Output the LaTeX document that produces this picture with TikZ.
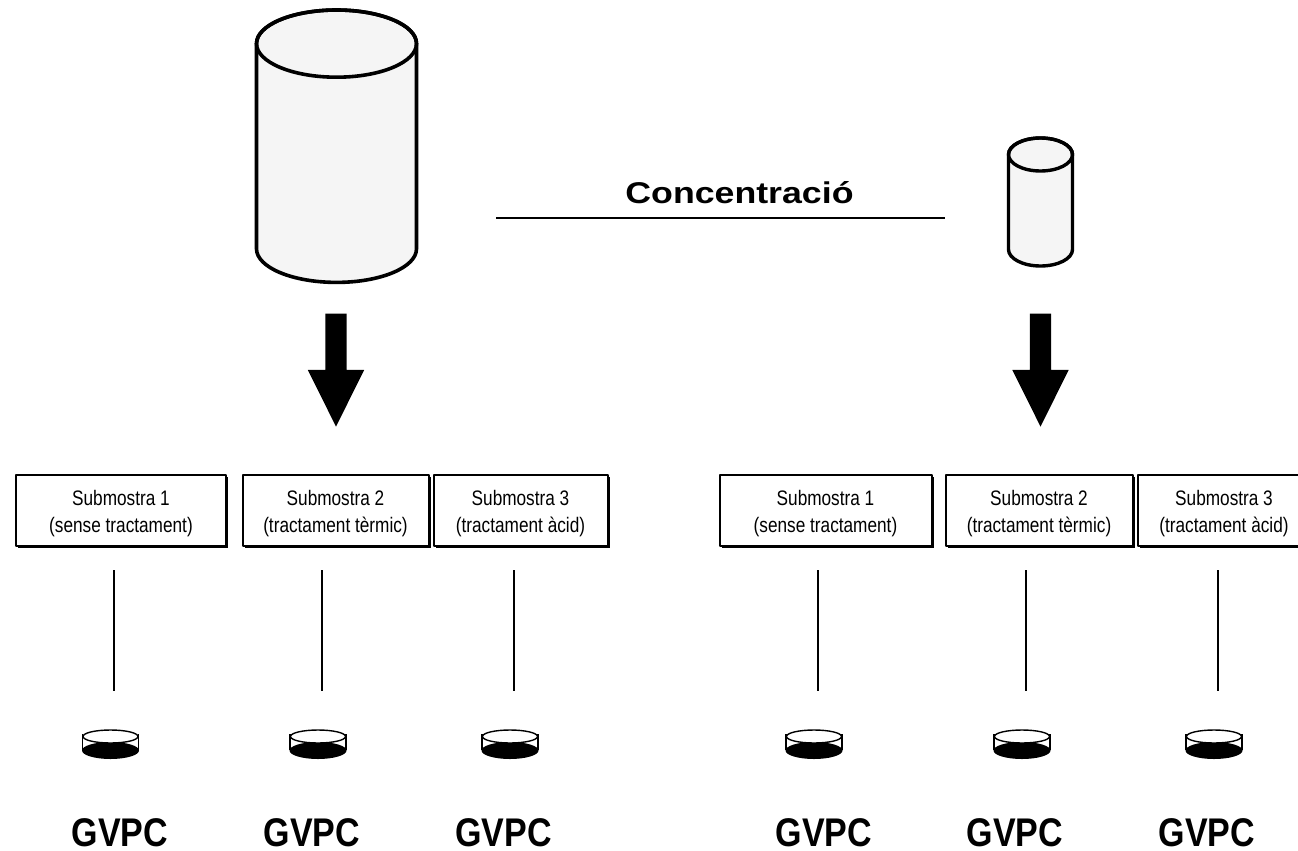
\documentclass[tikz,border=0pt]{standalone}
\usepackage{fontspec}
\setmainfont{Liberation Sans}
\newfontfamily\boxfont[FakeStretch=0.82]{Liberation Sans}
\newfontfamily\gvpcfont[FakeStretch=0.85]{Liberation Sans}
\newfontfamily\titlefont[FakeStretch=1.19]{Liberation Sans}
\usepackage{tikz}
\usetikzlibrary{arrows,shapes,positioning,shadows}

\newcommand{\sublabel}[2]{\rule{0pt}{23pt}#1\\#2}

\tikzset{dish/.pic={
 \fill[black] (0,5.5) ellipse [x radius=28.5pt, y radius=8.5pt];
 \draw[line width=1.4pt,fill=white] (0,-8.5) ellipse [x radius=27.5pt, y radius=6.5pt];
 \draw[line width=1.4pt] (-28,-11) -- (-28,5) (28,-11) -- (28,5);
}}
\tikzset{pics/tank/.style n args={3}{code={
 \draw[fill=black!4] (-#1,#3-#2) -- (-#1,#2-#3) arc[start angle=180,end angle=360,x radius=#1pt,y radius=#3pt]
  -- (#1,#3-#2) arc[start angle=0,end angle=180,x radius=#1pt,y radius=#3pt] -- cycle;
 \draw (0,#3-#2) ellipse [x radius=#1pt, y radius=#3pt];
}}}

\begin{document}
\begin{tikzpicture}[x=1pt,y=-1pt,
line join=round]
\tikzstyle{sample}=[rectangle,draw=black,fill=white,line width=2pt,minimum height=71pt,inner sep=0pt,align=center,
 font=\boxfont\fontsize{21}{27}\selectfont,
 drop shadow={shadow xshift=2pt,shadow yshift=-2pt,opacity=1,fill=black}]
\tikzstyle{flow}=[single arrow,fill=black,draw=none,rotate=-90,anchor=tip,inner xsep=0pt,inner ysep=10.5pt,minimum width=56pt,minimum height=113pt,
 single arrow head extend=17.5pt,single arrow tip angle=53]
\tikzstyle{stem}=[line width=1.3pt,black]
\tikzstyle{gvpc}=[anchor=base,inner sep=0pt,font=\gvpcfont\bfseries\fontsize{40}{40}\selectfont]

\useasboundingbox (0,0) rectangle (1298,851);

\pic[line width=3.6pt] (Big) at (336.5,146.2) {tank={80}{136.2}{33.6}};
\pic[line width=3.4pt] (Small) at (1040.5,202) {tank={32}{64}{16.5}};

%concentration
\node[anchor=base,inner sep=0pt,font=\titlefont\bfseries\fontsize{30}{30}\selectfont] (Conc) at (739.5,203) {Concentració};
\coordinate (ConcL) at (496,218);
\coordinate (ConcR) at (945,218);
\draw[line width=1.6pt] (ConcL) -- (ConcR);

\node[flow] (ArrowL) at (336,427) {};
\node[flow] (ArrowR) at (1040.5,427) {};

%first series
\node[sample,minimum width=210pt] (S1) at (121,510) {\sublabel{Submostra 1}{(sense tractament)}};
\node[sample,minimum width=186pt] (S2) at (335.5,510) {\sublabel{Submostra 2}{(tractament tèrmic)}};
\node[sample,minimum width=174pt] (S3) at (520.5,510) {\sublabel{Submostra 3}{(tractament àcid)}};

%second series
\node[sample,minimum width=212pt] (S4) at (825.5,510) {\sublabel{Submostra 1}{(sense tractament)}};
\node[sample,minimum width=187pt] (S5) at (1039,510) {\sublabel{Submostra 2}{(tractament tèrmic)}};
\node[sample,minimum width=173pt] (S6) at (1224,510) {\sublabel{Submostra 3}{(tractament àcid)}};

\coordinate (T1) at (114,570);
\coordinate (T2) at (322,570);
\coordinate (T3) at (514,570);
\coordinate (T4) at (818,570);
\coordinate (T5) at (1026,570);
\coordinate (T6) at (1218,570);
\coordinate (B1) at (114,691);
\coordinate (B2) at (322,691);
\coordinate (B3) at (514,691);
\coordinate (B4) at (818,691);
\coordinate (B5) at (1026,691);
\coordinate (B6) at (1218,691);

\draw[stem] (T1) -- (B1);
\draw[stem] (T2) -- (B2);
\draw[stem] (T3) -- (B3);
\draw[stem] (T4) -- (B4);
\draw[stem] (T5) -- (B5);
\draw[stem] (T6) -- (B6);

\pic (D1) at (110.5,745) {dish};
\pic (D2) at (318,745) {dish};
\pic (D3) at (510,745) {dish};
\pic (D4) at (814,745) {dish};
\pic (D5) at (1022,745) {dish};
\pic (D6) at (1214,745) {dish};

\node[gvpc] (G1) at (120,846) {GVPC};
\node[gvpc] (G2) at (312,846) {GVPC};
\node[gvpc] (G3) at (503.5,846) {GVPC};
\node[gvpc] (G4) at (824,846) {GVPC};
\node[gvpc] (G5) at (1015,846) {GVPC};
\node[gvpc] (G6) at (1207,846) {GVPC};

\end{tikzpicture}
\end{document}
